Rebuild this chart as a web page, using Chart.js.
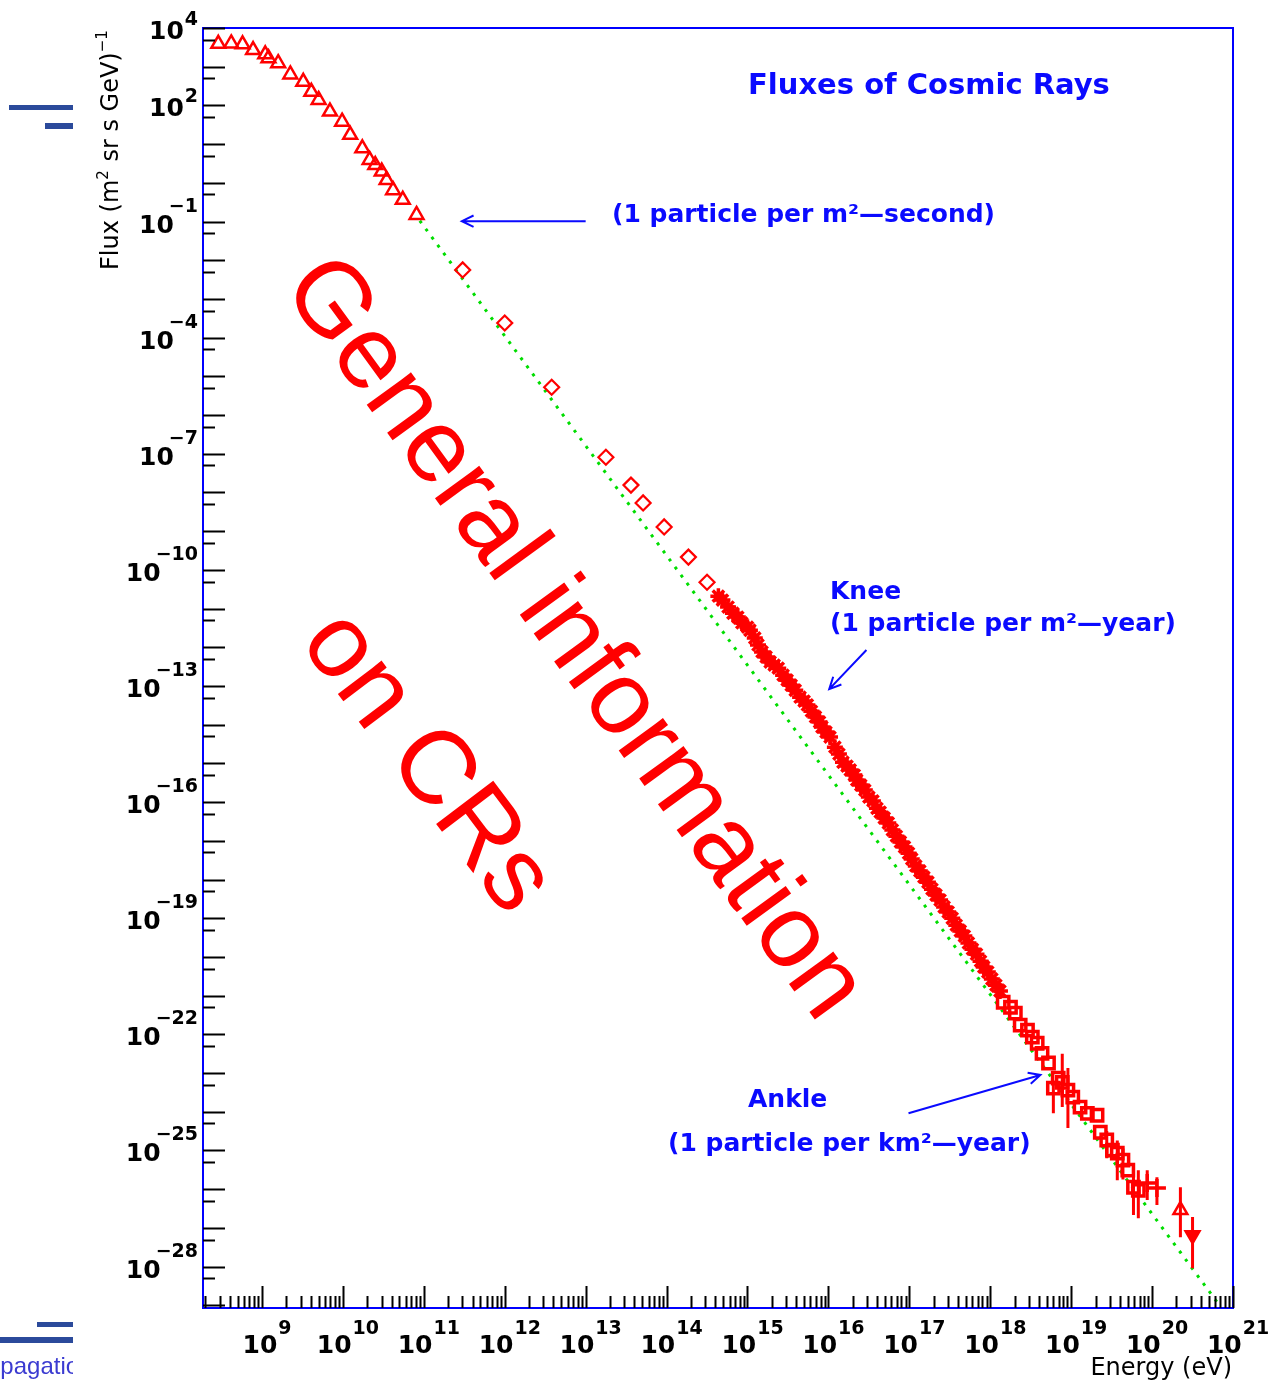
<!DOCTYPE html>
<html>
<head>
<meta charset="utf-8">
<title>Fluxes of Cosmic Rays</title>
<script src="https://cdn.jsdelivr.net/npm/chart.js@4.4.1/dist/chart.umd.min.js"></script>
<style>
  html, body { margin: 0; padding: 0; background: #ffffff; }
  #wrap { position: relative; width: 1269px; height: 1381px; }
  canvas { display: block; }
</style>
</head>
<body>
<div id="wrap"><canvas id="flux" width="1269" height="1381"></canvas></div>
<script>
// All values are log10: energy in eV, flux in (m^2 sr s GeV)^-1.

// Axis ranges (log10)
const xMinExp = 8.271, xMaxExp = 21;
const yMinExp = -29.07, yMaxExp = 4;

// Tick labels (powers of ten)
const xLabelExps = [9, 10, 11, 12, 13, 14, 15, 16, 17, 18, 19, 20, 21];
const yLabelExps = [4, 2, -1, -4, -7, -10, -13, -16, -19, -22, -25, -28];

// Low-energy direct measurements (open triangles)
const lowLogE    = [8.46, 8.62, 8.76, 8.89, 9.04, 9.08, 9.20, 9.35, 9.51, 9.61, 9.70, 9.84, 9.99, 10.09, 10.24, 10.33, 10.40, 10.48, 10.54, 10.62, 10.74, 10.91];
const lowLogFlux = [3.59, 3.60, 3.58, 3.43, 3.32, 3.22, 3.09, 2.80, 2.61, 2.35, 2.14, 1.84, 1.58, 1.24, 0.89, 0.59, 0.46, 0.29, 0.07, -0.19, -0.44, -0.83];

// Balloon / satellite points (open diamonds)
const balloonLogE    = [11.48, 12.00, 12.58, 13.25, 13.56, 13.71, 13.97, 14.27, 14.50];
const balloonLogFlux = [-2.25, -3.62, -5.28, -7.09, -7.81, -8.27, -8.89, -9.67, -10.32];

// Air-shower data around the knee (stars)
const kneeLogE    = [14.64, 14.69, 14.76, 14.82, 14.88, 14.93, 15.00, 15.03, 15.09, 15.13, 15.18, 15.23, 15.28, 15.33, 15.38, 15.44, 15.49, 15.54, 15.59, 15.65, 15.70, 15.74, 15.79, 15.84, 15.89, 15.92, 15.97, 16.02, 16.08, 16.13, 16.18, 16.23, 16.27, 16.32, 16.35, 16.40, 16.45];
const kneeLogFlux = [-10.68, -10.78, -10.96, -11.12, -11.22, -11.37, -11.48, -11.56, -11.76, -11.94, -12.12, -12.25, -12.38, -12.46, -12.54, -12.72, -12.85, -12.98, -13.11, -13.29, -13.39, -13.49, -13.65, -13.80, -13.93, -14.06, -14.19, -14.32, -14.58, -14.76, -14.97, -15.07, -15.17, -15.30, -15.43, -15.56, -15.69];

// Air-shower data between knee and ankle (crosses)
const midLogE    = [16.50, 16.55, 16.60, 16.64, 16.69, 16.74, 16.79, 16.84, 16.89, 16.94, 16.99, 17.03, 17.08, 17.13, 17.18, 17.23, 17.28, 17.33, 17.38, 17.43, 17.48, 17.53, 17.58, 17.63, 17.68, 17.73, 17.78, 17.83, 17.88, 17.92, 17.97, 18.02, 18.07, 18.12];
const midLogFlux = [-15.87, -15.97, -16.16, -16.26, -16.41, -16.54, -16.72, -16.88, -17.03, -17.16, -17.32, -17.47, -17.65, -17.78, -17.94, -18.07, -18.25, -18.40, -18.53, -18.71, -18.84, -19.00, -19.18, -19.33, -19.46, -19.64, -19.80, -19.93, -20.11, -20.26, -20.39, -20.57, -20.73, -20.88];

// Ultra-high-energy data (open squares) with flux error ranges
const ankleLogE      = [18.16, 18.25, 18.31, 18.37, 18.46, 18.52, 18.58, 18.64, 18.72, 18.78, 18.84, 18.89, 18.96, 19.02, 19.11, 19.20, 19.32, 19.36, 19.44, 19.51, 19.57, 19.64, 19.70, 19.77, 19.83];
const ankleLogFlux   = [-21.17, -21.30, -21.45, -21.76, -21.89, -22.07, -22.23, -22.49, -22.74, -23.39, -23.13, -23.24, -23.44, -23.62, -23.88, -24.04, -24.09, -24.53, -24.73, -24.99, -25.07, -25.25, -25.51, -25.95, -26.03];
const ankleErrHigh   = [null, null, null, null, null, null, null, null, null, -23.20, null, -22.50, -22.87, null, null, null, null, null, -24.50, null, -24.74, -24.95, null, -25.46, -25.51];
const ankleErrLow    = [null, null, null, null, null, null, null, null, null, -24.04, null, -23.88, -24.42, null, null, null, null, null, -25.20, null, -25.77, -25.75, null, -26.67, -26.75];

// Highest-energy events (open crosses, open triangle, filled triangle)
const tailCrossLogE    = [19.94, 20.06];
const tailCrossLogFlux = [-25.84, -25.97];
const tailCrossErrHigh = [-25.51, -25.69];
const tailCrossErrLow  = [-26.28, -26.41];
const tailOpenLogE    = [20.35];
const tailOpenLogFlux = [-26.54];
const tailOpenErrHigh = [-25.95];
const tailOpenErrLow  = [-27.24];
const tailFillLogE    = [20.50];
const tailFillLogFlux = [-27.19];
const tailFillErrHigh = [-26.72];
const tailFillErrLow  = [-28.04];

// Reference power law (green dotted)
const refLogE    = [10.95, 20.85];
const refLogFlux = [-0.98, -29.05];

// Annotation arrows: [tail logE, tail logFlux, tip logE, tip logFlux]
const arrowSecond = [13.00, -0.99, 11.47, -0.99];
const arrowKnee   = [16.47, -12.07, 16.01, -13.08];
const arrowAnkle  = [16.99, -24.04, 18.62, -23.05];

const RED = '#ff0000';
const BLUE = '#0a0aff';
const toPoints = (le, lf) => le.map((e, i) => ({ x: Math.pow(10, e), y: Math.pow(10, lf[i]) }));

// Vertical flux error bars drawn through the scales
const errorBarSets = [
  [ankleLogE, ankleErrHigh, ankleErrLow],
  [tailCrossLogE, tailCrossErrHigh, tailCrossErrLow],
  [tailOpenLogE, tailOpenErrHigh, tailOpenErrLow],
  [tailFillLogE, tailFillErrHigh, tailFillErrLow]
];

const errorBars = {
  id: 'errorBars',
  afterDatasetsDraw(chart) {
    const { ctx, scales: { x, y } } = chart;
    ctx.save();
    ctx.strokeStyle = RED;
    ctx.lineWidth = 3;
    ctx.beginPath();
    errorBarSets.forEach(([le, hi, lo]) => {
      le.forEach((e, i) => {
        if (hi[i] === null || lo[i] === null) return;
        const px = x.getPixelForValue(Math.pow(10, e));
        ctx.moveTo(px, y.getPixelForValue(Math.pow(10, hi[i])));
        ctx.lineTo(px, y.getPixelForValue(Math.pow(10, lo[i])));
      });
    });
    ctx.stroke();
    ctx.restore();
  }
};

function fmtExp(e) { return String(e).replace('-', '\u2212'); }

// Frame, inward log ticks and 10^n labels
const frameAxes = {
  id: 'frameAxes',
  afterDraw(chart) {
    const { ctx, chartArea: a, scales: { x, y } } = chart;
    ctx.save();
    // blue frame
    ctx.strokeStyle = '#0000ff';
    ctx.lineWidth = 2;
    ctx.strokeRect(a.left, a.top, a.right - a.left, a.bottom - a.top);

    // black ticks
    ctx.strokeStyle = '#000000';
    ctx.lineWidth = 2;
    ctx.beginPath();
    for (let n = Math.floor(xMinExp); n <= Math.ceil(xMaxExp); n++) {
      for (let m = 1; m <= 9; m++) {
        const le = n + Math.log10(m);
        if (le < xMinExp - 1e-6 || le > xMaxExp + 1e-6) continue;
        const px = Math.round(x.getPixelForValue(Math.pow(10, le))) + 0.5;
        const len = m === 1 ? 22 : 12;
        ctx.moveTo(px, a.bottom);
        ctx.lineTo(px, a.bottom - len);
      }
    }
    for (let n = Math.floor(yMinExp); n <= Math.ceil(yMaxExp); n++) {
      [[0, 22], [-Math.log10(2), 12]].forEach(([off, len]) => {
        const le = n + off;
        if (le < yMinExp - 1e-6 || le > yMaxExp + 1e-6) return;
        const py = Math.round(y.getPixelForValue(Math.pow(10, le))) + 0.5;
        ctx.moveTo(a.left, py);
        ctx.lineTo(a.left + len, py);
      });
    }
    ctx.stroke();

    // tick labels
    ctx.fillStyle = '#000000';
    ctx.textBaseline = 'alphabetic';
    ctx.textAlign = 'left';
    const baseFont = 'bold 25px "DejaVu Sans"';
    const expFont = 'bold 19px "DejaVu Sans"';
    const gap = 1;
    xLabelExps.forEach(e => {
      const px = x.getPixelForValue(Math.pow(10, e));
      const es = fmtExp(e);
      ctx.font = baseFont; const wb = ctx.measureText('10').width;
      ctx.font = expFont; const we = ctx.measureText(es).width;
      const left = px + 5 - (wb + gap + we) / 2;
      ctx.font = baseFont; ctx.fillText('10', left, a.bottom + 45);
      ctx.font = expFont; ctx.fillText(es, left + wb + gap, a.bottom + 26);
    });
    yLabelExps.forEach(e => {
      const py = y.getPixelForValue(Math.pow(10, e));
      const es = fmtExp(e);
      ctx.font = baseFont; const wb = ctx.measureText('10').width;
      ctx.font = expFont; const we = ctx.measureText(es).width;
      const right = a.left - 5;
      ctx.font = expFont; ctx.fillText(es, right - we, py + (e >= 0 ? -3 : -10));
      ctx.font = baseFont; ctx.fillText('10', right - we - gap - wb + (e < 0 ? 6 : 0), py + 11);
    });

    // axis titles
    ctx.font = '24px "DejaVu Sans"';
    ctx.textAlign = 'right';
    ctx.fillText('Energy (eV)', a.right - 1, a.bottom + 67);

    ctx.save();
    ctx.translate(118, 270);
    ctx.rotate(-Math.PI / 2);
    ctx.textAlign = 'left';
    let cx = 0;
    [['Flux (m', 24, 0], ['2', 15, -10], [' sr s GeV)', 24, 0], ['\u22121', 15, -11]].forEach(([t, s, dy]) => {
      ctx.font = s + 'px "DejaVu Sans"';
      ctx.fillText(t, cx, dy);
      cx += ctx.measureText(t).width + (s < 20 ? 1 : 0);
    });
    ctx.restore();
    ctx.restore();
  }
};

function drawArrow(ctx, x0, y0, x1, y1) {
  const ang = Math.atan2(y1 - y0, x1 - x0);
  const h = 13, spread = 0.45;
  ctx.beginPath();
  ctx.moveTo(x0, y0);
  ctx.lineTo(x1, y1);
  ctx.moveTo(x1 - h * Math.cos(ang - spread), y1 - h * Math.sin(ang - spread));
  ctx.lineTo(x1, y1);
  ctx.lineTo(x1 - h * Math.cos(ang + spread), y1 - h * Math.sin(ang + spread));
  ctx.stroke();
}

// Title, annotations, overlay caption and page decorations
const annotations = {
  id: 'annotations',
  afterDraw(chart) {
    const { ctx, scales: { x, y } } = chart;
    const X = le => x.getPixelForValue(Math.pow(10, le));
    const Y = lf => y.getPixelForValue(Math.pow(10, lf));
    ctx.save();

    // blue annotation text
    ctx.fillStyle = BLUE;
    ctx.textAlign = 'left';
    ctx.textBaseline = 'alphabetic';
    ctx.font = 'bold 29px "DejaVu Sans"';
    ctx.fillText('Fluxes of Cosmic Rays', 748, 94);
    ctx.font = 'bold 25px "DejaVu Sans"';
    ctx.fillText('(1 particle per m\u00b2\u2014second)', 612, 222);
    ctx.fillText('Knee', 830, 599);
    ctx.fillText('(1 particle per m\u00b2\u2014year)', 830, 631);
    ctx.fillText('Ankle', 748, 1107);
    ctx.fillText('(1 particle per km\u00b2\u2014year)', 668, 1151);

    ctx.strokeStyle = BLUE;
    ctx.lineWidth = 2;
    [arrowSecond, arrowKnee, arrowAnkle].forEach(([e0, f0, e1, f1]) => {
      drawArrow(ctx, X(e0), Y(f0), X(e1), Y(f1));
    });

    // large red caption across the plot
    ctx.fillStyle = RED;
    ctx.font = '104px "Liberation Sans"';
    ctx.textAlign = 'center';
    ctx.textBaseline = 'middle';
    ctx.save();
    ctx.translate(573, 639);
    ctx.rotate(53.9 * Math.PI / 180);
    ctx.fillText('General information', 0, 0);
    ctx.restore();
    ctx.save();
    ctx.translate(426, 763);
    ctx.rotate(52.9 * Math.PI / 180);
    ctx.fillText('on CRs', 0, 0);
    ctx.restore();

    // slide decorations at the left edge
    ctx.fillStyle = '#2b4a9b';
    ctx.fillRect(9, 105, 64, 5);
    ctx.fillRect(45, 123, 28, 6);
    ctx.fillRect(37, 1322, 36, 5);
    ctx.fillRect(0, 1337, 73, 6);
    ctx.save();
    ctx.beginPath();
    ctx.rect(0, 1345, 73, 36);
    ctx.clip();
    ctx.fillStyle = '#3b3bd1';
    ctx.font = '24px "Liberation Sans"';
    ctx.textAlign = 'left';
    ctx.textBaseline = 'alphabetic';
    ctx.fillText('Propagation', -37, 1374);
    ctx.restore();

    ctx.restore();
  }
};

const openMarker = (data, style, radius, width) => ({
  data,
  showLine: false,
  pointStyle: style,
  pointRadius: radius,
  pointBorderWidth: width,
  pointBorderColor: RED,
  pointBackgroundColor: 'rgba(0,0,0,0)'
});

new Chart(document.getElementById('flux'), {
  type: 'scatter',
  data: {
    datasets: [
      Object.assign(openMarker(toPoints(tailFillLogE, tailFillLogFlux), 'triangle', 8, 2.5),
        { label: 'highest event', pointRotation: 180, pointBackgroundColor: RED }),
      Object.assign(openMarker(toPoints(tailOpenLogE, tailOpenLogFlux), 'triangle', 8, 2.5), { label: 'UHE triangle' }),
      Object.assign(openMarker(toPoints(tailCrossLogE, tailCrossLogFlux), 'cross', 9, 3.5), { label: 'UHE cross' }),
      Object.assign(openMarker(toPoints(ankleLogE, ankleLogFlux), 'rect', 8, 3.5), { label: 'ankle' }),
      Object.assign(openMarker(toPoints(midLogE, midLogFlux), 'star', 8, 3.5), { label: 'above knee' }),
      Object.assign(openMarker(toPoints(kneeLogE, kneeLogFlux), 'star', 8, 3.5), { label: 'knee' }),
      Object.assign(openMarker(toPoints(balloonLogE, balloonLogFlux), 'rectRot', 7.5, 2.2), { label: 'balloon' }),
      Object.assign(openMarker(toPoints(lowLogE, lowLogFlux), 'triangle', 8, 2.5), { label: 'direct' }),
      {
        label: 'power law',
        data: toPoints(refLogE, refLogFlux),
        showLine: true,
        borderColor: '#00dd00',
        borderWidth: 3,
        borderDash: [3, 7],
        pointRadius: 0,
        fill: false
      }
    ]
  },
  options: {
    responsive: false,
    animation: false,
    devicePixelRatio: 1,
    events: [],
    layout: { padding: { left: 203, top: 28, right: 36, bottom: 73 } },
    plugins: { legend: { display: false }, tooltip: { enabled: false } },
    scales: {
      x: { type: 'logarithmic', min: Math.pow(10, xMinExp), max: Math.pow(10, xMaxExp), display: false },
      y: { type: 'logarithmic', min: Math.pow(10, yMinExp), max: Math.pow(10, yMaxExp), display: false }
    }
  },
  plugins: [errorBars, frameAxes, annotations]
});
</script>
</body>
</html>
